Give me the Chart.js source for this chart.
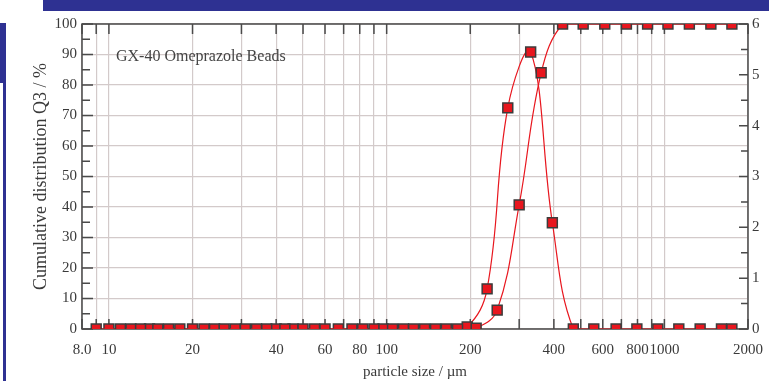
<!DOCTYPE html>
<html>
<head>
<meta charset="utf-8">
<script src="https://cdn.jsdelivr.net/npm/chart.js@4.4.1/dist/chart.umd.min.js"></script>
<style>
  body { margin: 0; background: #fff; }
  #wrap { position: relative; width: 769px; height: 381px; overflow: hidden; }
  #curveCanvas { position: absolute; left: 0; top: 0; }
  .band { position: absolute; background: #2e3192; }
</style>
</head>
<body>
<div id="wrap">
  <canvas id="curveCanvas" width="769" height="381"></canvas>
  <div class="band" style="left:43px;top:0;width:726px;height:11px"></div>
  <div class="band" style="left:0;top:23px;width:6px;height:60px"></div>
  <div class="band" style="left:3px;top:83px;width:3px;height:298px"></div>
</div>
<script>
// cumulative Q3 (%), at the upper class limits
const cumSizes = [9, 11, 13, 15, 18, 22, 26, 31, 37, 43, 50, 60, 75, 90, 105, 125, 150, 180,
  210, 250, 300, 360, 430, 510, 610, 730, 870, 1030, 1230, 1470, 1750];
const cumValues = [0, 0, 0, 0, 0, 0, 0, 0, 0, 0, 0, 0, 0, 0, 0, 0, 0, 0,
  0.3, 6.2, 40.7, 84, 100, 100, 100, 100, 100, 100, 100, 100, 100];

// density q3lg, at the class means (right axis)
const densSizes = [10, 12, 14, 16.4, 20, 24, 28.5, 34, 40, 46, 55, 67, 82, 97, 115, 137, 164,
  195, 230, 273, 330, 395, 470, 557, 670, 796, 947, 1127, 1345, 1605, 1750];
const densValues = [0, 0, 0, 0, 0, 0, 0, 0, 0, 0, 0, 0, 0, 0, 0, 0, 0,
  0.04, 0.79, 4.35, 5.45, 2.09, 0, 0, 0, 0, 0, 0, 0, 0, 0];

const xTicks = [8, 9, 10, 20, 30, 40, 50, 60, 70, 80, 90, 100, 200, 300, 400, 500, 600, 700, 800, 900, 1000, 2000];
const xTickLabels = ['8.0', '', '10', '20', '', '40', '', '60', '', '80', '', '100', '200', '', '400', '', '600', '', '800', '', '1000', '2000'];
const yTicks = [0, 5, 10, 15, 20, 25, 30, 35, 40, 45, 50, 55, 60, 65, 70, 75, 80, 85, 90, 95, 100];
const y2Ticks = [0, 1, 2, 3, 4, 5, 6];

const red = '#e8161e';
const frameColor = '#4a4a4a';
const gridColor = '#d3caca';
const textColor = '#3a3a3a';
const serif = '"Liberation Serif", "Times New Roman", serif';

// frame + inward tick marks + caption
const framePlugin = {
  id: 'frame',
  beforeDatasetsDraw: (chart) => {
    const { ctx, chartArea: a, scales } = chart;
    ctx.save();
    ctx.strokeStyle = frameColor;
    ctx.lineWidth = 1.5;
    ctx.strokeRect(a.left, a.top, a.right - a.left, a.bottom - a.top);
    ctx.beginPath();
    xTicks.forEach((v) => {
      const px = scales.x.getPixelForValue(v);
      ctx.moveTo(px, a.bottom);
      ctx.lineTo(px, a.bottom - 10);
      ctx.moveTo(px, a.top);
      ctx.lineTo(px, a.top + 10);
    });
    yTicks.forEach((v) => {
      const py = scales.y.getPixelForValue(v);
      ctx.moveTo(a.left, py);
      ctx.lineTo(a.left + (v % 10 === 0 ? 11 : 8), py);
    });
    for (let v = 0; v <= 6; v += 0.5) {
      const py = scales.y2.getPixelForValue(v);
      ctx.moveTo(a.right, py);
      ctx.lineTo(a.right - (v % 1 === 0 ? 9 : 7), py);
    }
    ctx.stroke();
    ctx.fillStyle = '#444';
    ctx.font = '16px ' + serif;
    ctx.textBaseline = 'alphabetic';
    ctx.fillText('GX-40 Omeprazole Beads', 116, 61);
    ctx.restore();
  }
};

const ctx = document.getElementById('curveCanvas').getContext('2d');
const tickFont = { family: serif, size: 15 };

const chart = new Chart(ctx, {
  type: 'line',
  data: {
    datasets: [{
      label: 'Q3',
      data: cumSizes.map((s, i) => ({ x: s, y: cumValues[i] })),
      yAxisID: 'y',
      borderColor: red,
      borderWidth: 1.2,
      tension: 0.4,
      pointStyle: 'rect',
      pointRadius: 7,
      pointBackgroundColor: red,
      pointBorderColor: '#3c3c3c',
      pointBorderWidth: 1.5,
      fill: false
    }, {
      label: 'q3',
      data: densSizes.map((s, i) => ({ x: s, y: densValues[i] })),
      yAxisID: 'y2',
      borderColor: red,
      borderWidth: 1.2,
      tension: 0.4,
      pointStyle: 'rect',
      pointRadius: 7,
      pointBackgroundColor: red,
      pointBorderColor: '#3c3c3c',
      pointBorderWidth: 1.5,
      fill: false
    }]
  },
  options: {
    responsive: false,
    animation: false,
    layout: { padding: { top: 24, left: 0, right: 0, bottom: 0 } },
    plugins: { legend: { display: false }, tooltip: { enabled: false } },
    scales: {
      x: {
        type: 'logarithmic',
        min: 8,
        max: 2000,
        afterBuildTicks: (s) => { s.ticks = xTicks.map((v) => ({ value: v })); },
        afterFit: (s) => {
          s.height = 52;
          s.paddingLeft = 0;
          s.paddingRight = 0;
        },
        grid: { color: gridColor, lineWidth: 1.2, drawTicks: false },
        border: { display: false },
        ticks: {
          autoSkip: false,
          maxRotation: 0,
          padding: 12,
          color: textColor,
          font: tickFont,
          callback: (v, i) => xTickLabels[i]
        },
        title: {
          display: true,
          text: 'particle size / µm',
          color: textColor,
          font: { family: serif, size: 15 },
          padding: { top: 0, bottom: 0 }
        }
      },
      y: {
        position: 'left',
        min: 0,
        max: 100,
        afterBuildTicks: (s) => { s.ticks = yTicks.map((v) => ({ value: v })); },
        afterFit: (s) => { s.width = 82; },
        grid: { color: gridColor, lineWidth: 1.2, drawTicks: false },
        border: { display: false },
        ticks: {
          padding: 5,
          color: textColor,
          font: tickFont,
          callback: (v) => (v % 10 === 0 ? String(v) : '')
        },
        title: {
          display: true,
          text: 'Cumulative distribution Q3 / %',
          color: textColor,
          font: { family: serif, size: 18 },
          padding: { top: 30, bottom: 0 }
        }
      },
      y2: {
        position: 'right',
        min: 0,
        max: 6,
        afterBuildTicks: (s) => { s.ticks = y2Ticks.map((v) => ({ value: v })); },
        afterFit: (s) => { s.width = 21; },
        grid: { display: false, drawTicks: false },
        border: { display: false },
        ticks: { padding: 4, color: textColor, font: tickFont }
      }
    }
  },
  plugins: [framePlugin]
});
</script>
</body>
</html>
